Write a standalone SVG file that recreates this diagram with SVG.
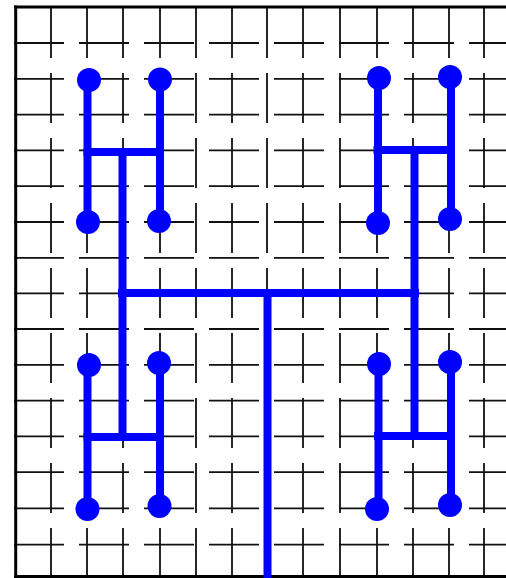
<svg xmlns="http://www.w3.org/2000/svg" width="506" height="578" viewBox="0 0 506 578">
<style>
.h{stroke:#111;stroke-width:1.8;stroke-dasharray:50 15;fill:none}
.v{stroke:#111;stroke-width:1.8;stroke-dasharray:50 15;fill:none}
.b{stroke:#000;stroke-width:3;fill:none}
.w{stroke:#0000ff;stroke-width:8;fill:none;stroke-linecap:butt}
.d{fill:#0000ff}
</style>
<rect width="506" height="578" fill="#fff"/>
<g id="grid">
<g id="grid-h">
<line class="h" x1="14" y1="43" x2="506" y2="43"/>
<line class="h" x1="14" y1="78.8" x2="506" y2="78.8"/>
<line class="h" x1="14" y1="114.6" x2="506" y2="114.6"/>
<line class="h" x1="14" y1="150.4" x2="506" y2="150.4"/>
<line class="h" x1="14" y1="186.2" x2="506" y2="186.2"/>
<line class="h" x1="14" y1="222" x2="506" y2="222"/>
<line class="h" x1="14" y1="257.8" x2="506" y2="257.8"/>
<line class="h" x1="14" y1="293.3" x2="506" y2="293.3"/>
<line class="h" x1="14" y1="329" x2="506" y2="329"/>
<line class="h" x1="14" y1="364.8" x2="506" y2="364.8"/>
<line class="h" x1="14" y1="400.6" x2="506" y2="400.6"/>
<line class="h" x1="14" y1="436.4" x2="506" y2="436.4"/>
<line class="h" x1="14" y1="472.2" x2="506" y2="472.2"/>
<line class="h" x1="14" y1="508.4" x2="506" y2="508.4"/>
<line class="h" x1="14" y1="544.6" x2="506" y2="544.6"/>
</g>
<g id="grid-v">
<line class="v" x1="51" y1="8" x2="51" y2="576"/>
<line class="v" x1="87" y1="8" x2="87" y2="576"/>
<line class="v" x1="123" y1="8" x2="123" y2="576"/>
<line class="v" x1="160" y1="8" x2="160" y2="576"/>
<line class="v" x1="196" y1="8" x2="196" y2="576"/>
<line class="v" x1="232" y1="8" x2="232" y2="576"/>
<line class="v" x1="267" y1="8" x2="267" y2="576"/>
<line class="v" x1="303" y1="8" x2="303" y2="576"/>
<line class="v" x1="340" y1="8" x2="340" y2="576"/>
<line class="v" x1="377" y1="8" x2="377" y2="576"/>
<line class="v" x1="413" y1="8" x2="413" y2="576"/>
<line class="v" x1="449" y1="8" x2="449" y2="576"/>
<line class="v" x1="484" y1="8" x2="484" y2="576"/>
</g>
</g>
<g id="border">
<line class="b" x1="14" y1="7" x2="506" y2="7"/>
<line class="b" x1="15.7" y1="5.5" x2="15.7" y2="578"/>
<line class="b" x1="14" y1="576.5" x2="506" y2="576.5"/>
</g>
<g id="connectors">
<path class="w" d="M267.5 293 V578"/>
<path class="w" d="M118 293 H419"/>
<path class="w" d="M122.5 148 V441"/>
<path class="w" d="M414.5 146 V440"/>
<path class="w" d="M83.5 152 H164"/>
<path class="w" d="M87.5 80 V222 M160 79 V221"/>
<path class="w" d="M83.5 437 H164"/>
<path class="w" d="M87.5 365 V509 M160 363 V506"/>
<path class="w" d="M373.5 150 H455"/>
<path class="w" d="M378 78 V223 M451 77 V219"/>
<path class="w" d="M374 436 H455"/>
<path class="w" d="M378.5 364 V509 M451 362 V505"/>
</g>
<g id="node-tl">
<circle class="d" cx="89" cy="80" r="12"/>
<circle class="d" cx="160" cy="79.5" r="12"/>
<circle class="d" cx="88" cy="222" r="12"/>
<circle class="d" cx="159" cy="221" r="12"/>
</g>
<g id="node-tr">
<circle class="d" cx="379" cy="78" r="12"/>
<circle class="d" cx="450" cy="77" r="12"/>
<circle class="d" cx="378" cy="223" r="12"/>
<circle class="d" cx="450" cy="219" r="12"/>
</g>
<g id="node-bl">
<circle class="d" cx="89" cy="365" r="12"/>
<circle class="d" cx="159" cy="363" r="12"/>
<circle class="d" cx="87.5" cy="509" r="12"/>
<circle class="d" cx="159.5" cy="506" r="12"/>
</g>
<g id="node-br">
<circle class="d" cx="379" cy="364" r="12"/>
<circle class="d" cx="450" cy="362" r="12"/>
<circle class="d" cx="377" cy="509" r="12"/>
<circle class="d" cx="450" cy="505" r="12"/>
</g>
</svg>
